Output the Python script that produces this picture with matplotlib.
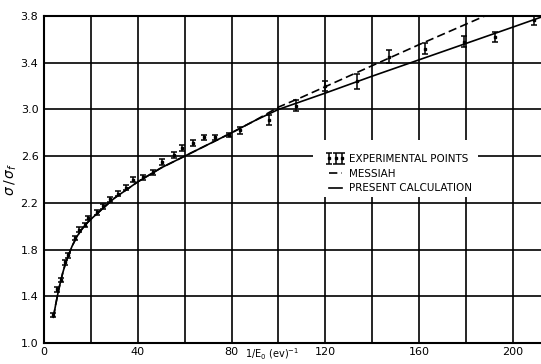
import matplotlib
matplotlib.use("Agg")
import matplotlib.pyplot as plt
from matplotlib.patches import Rectangle

# experimental points (1/E0, sigma/sigma_f, error)
exp_x = [3.8, 5.7, 7.1, 9.0, 10.4, 13.2, 15.1, 17.5, 18.9, 22.5, 25.2, 28.2,
         31.6, 35.0, 38.0, 42.3, 46.6, 50.3, 55.3, 58.8, 63.4, 68.1, 72.8,
         78.8, 83.5, 95.9, 107.7, 119.7, 133.6, 147.1, 162.4, 179.2, 192.4, 209.1]
exp_y = [1.24, 1.46, 1.54, 1.69, 1.75, 1.90, 1.97, 2.01, 2.07, 2.12, 2.17, 2.23,
         2.28, 2.33, 2.40, 2.42, 2.46, 2.55, 2.61, 2.67, 2.71, 2.76, 2.76,
         2.78, 2.82, 2.91, 3.03, 3.20, 3.24, 3.45, 3.52, 3.58, 3.62, 3.77]
exp_err = [0.02, 0.02, 0.02, 0.02, 0.02, 0.02, 0.02, 0.02, 0.02, 0.02, 0.02, 0.02,
           0.02, 0.02, 0.02, 0.02, 0.025, 0.025, 0.025, 0.025, 0.025, 0.025, 0.02,
           0.02, 0.03, 0.045, 0.047, 0.04, 0.065, 0.055, 0.045, 0.045, 0.045, 0.05]

# present calculation
calc_x = [4, 5, 6, 7, 8, 9, 10, 12, 14, 16, 18, 20, 25, 30, 35, 40, 50, 60, 70,
          80, 90, 100, 110, 120, 140, 160, 180, 200, 212]
calc_y = [1.22, 1.33, 1.43, 1.52, 1.60, 1.67, 1.73, 1.83, 1.91, 1.97, 2.02, 2.06,
          2.15, 2.24, 2.31, 2.38, 2.50, 2.60, 2.70, 2.80, 2.905, 3.00, 3.07, 3.14,
          3.285, 3.425, 3.565, 3.705, 3.79]

# Messiah (departs from the calculation above ~95)
mess_x = [4, 5, 6, 7, 8, 9, 10, 12, 14, 16, 18, 20, 25, 30, 35, 40, 50, 60, 70,
          80, 90, 100, 110, 120, 140, 160, 180, 192]
mess_y = [1.22, 1.33, 1.43, 1.52, 1.60, 1.67, 1.73, 1.83, 1.91, 1.97, 2.02, 2.06,
          2.15, 2.24, 2.31, 2.38, 2.50, 2.60, 2.70, 2.80, 2.905, 3.02, 3.105, 3.195,
          3.375, 3.555, 3.73, 3.835]

x_major = [0, 40, 80, 120, 160, 200]
x_minor = [20, 60, 100, 140, 180]
y_ticks = [1.0, 1.4, 1.8, 2.2, 2.6, 3.0, 3.4, 3.8]

fig = plt.figure(figsize=(5.41, 3.64), dpi=100)
ax = fig.add_axes([0.0813, 0.0577, 0.9187, 0.8983])

ax.set_xlim(0, 212)
ax.set_ylim(1.0, 3.8)
ax.set_xticks(x_major)
ax.set_xticks(x_minor, minor=True)
ax.set_yticks(y_ticks)
ax.set_xticklabels([str(v) for v in x_major])
ax.set_yticklabels(["%.1f" % v for v in y_ticks])
ax.tick_params(which="both", length=0, labelsize=8, pad=3)
ax.tick_params(axis="y", pad=4)

ax.set_axisbelow(True)
ax.grid(True, which="both", color="black", lw=1.2)
for s in ["left", "bottom", "top"]:
    ax.spines[s].set_linewidth(1.5)
ax.spines["right"].set_visible(False)

# white patch behind the legend, breaking the grid
ax.add_patch(Rectangle((0.541, 0.446), 0.332, 0.175, transform=ax.transAxes,
                       facecolor="white", edgecolor="none", zorder=1.5))

eb = ax.errorbar(exp_x, exp_y, yerr=exp_err, fmt="s", ms=1.6, color="black",
                 ecolor="black", elinewidth=1.1, capsize=2, capthick=1.1, zorder=3,
                 label="EXPERIMENTAL POINTS")
ln_m, = ax.plot(mess_x, mess_y, color="black", lw=1.2, dashes=(5, 2.5),
                label="MESSIAH", zorder=2)
ln_c, = ax.plot(calc_x, calc_y, color="black", lw=1.2,
                label="PRESENT CALCULATION", zorder=2)

leg = ax.legend(handles=[eb, ln_m, ln_c], loc="upper left",
                bbox_to_anchor=(0.567, 0.578), frameon=False, fontsize=7.5,
                numpoints=3, handlelength=1.9, handletextpad=0.35,
                labelspacing=0.45, borderaxespad=0, borderpad=0)

ax.set_ylabel(r"$\sigma\,/\,\sigma_f$", fontsize=10)
ax.yaxis.set_label_coords(-0.05, 0.5)
ax.set_xlabel(r"1/E$_0$ (ev)$^{-1}$", fontsize=7)
ax.xaxis.set_label_coords(0.405, -0.012)
ax.xaxis.label.set_va("top")
ax.xaxis.label.set_ha("left")

fig.savefig("out.png", dpi=100)
